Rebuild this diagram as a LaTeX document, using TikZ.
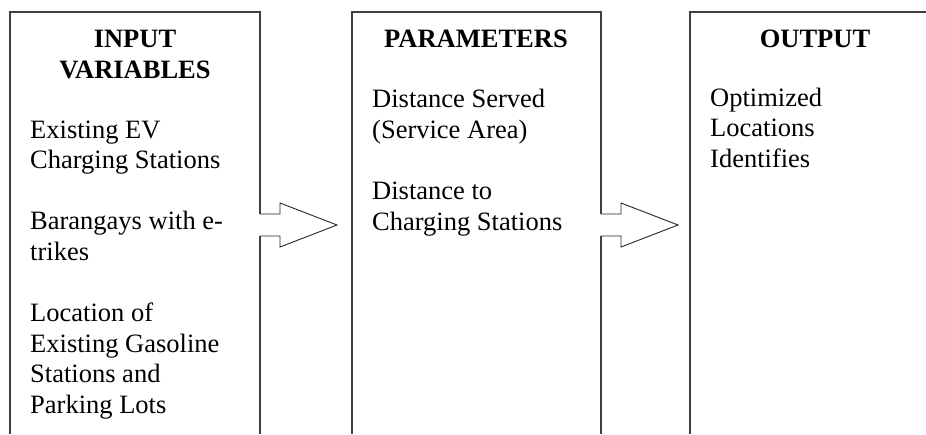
\documentclass[tikz,border=0pt]{standalone}
\usepackage{fontspec}
\setmainfont{Liberation Serif}

\begin{document}
\begin{tikzpicture}[x=1pt,y=-1pt,
  boxline/.style={draw=black!75,line width=1.2pt},
  arrowline/.style={draw=black!85,line width=0.9pt,line join=miter},
  heading/.style={font=\fontsize{26.5}{31}\selectfont\bfseries,align=center,anchor=base,inner sep=0pt},
  items/.style={font=\fontsize{26.5}{30.5}\selectfont,align=left,anchor=base west,inner sep=0pt}]
  \useasboundingbox (0,0) rectangle (926,434);
  % boxes, open at the bottom
  \draw[boxline] (10,434)--(10,12)--(260,12)--(260,214);
  \draw[boxline] (260,236)--(260,434);
  \draw[boxline] (352,434)--(352,12)--(601,12)--(601,214);
  \draw[boxline] (601,236)--(601,434);
  \draw[boxline] (690,434)--(690,12)--(926,12);
  % headings (base = baseline of the last line)
  \node[heading] (inputHead) at (135,78) {INPUT\\VARIABLES};
  \node[heading] (paramHead) at (476,47) {PARAMETERS};
  \node[heading] (outputHead) at (815,47) {OUTPUT};
  % contents
  \node[items] (inputItems) at (30,413) {Existing EV\\Charging Stations\\[30.5pt]
    Barangays with e-\\trikes\\[31pt]Location of\\Existing Gasoline\\Stations and\\Parking Lots};
  \node[items] (paramItems) at (372,230) {Distance Served\\(Service Area)\\[31pt]
    Distance to\\Charging Stations};
  \node[items] (outputItems) at (710,167) {Optimized\\Locations\\Identifies};
  % block arrows between the boxes
  \coordinate (inE) at (260,225);
  \coordinate (paramE) at (601,225);
  \draw[arrowline] (inE) ++(0,-11) -- ++(20,0) -- ++(0,-11) -- ++(57,22)
    -- ++(-57,22) -- ++(0,-11) -- ++(-20,0);
  \draw[arrowline] (paramE) ++(0,-11) -- ++(20,0) -- ++(0,-11) -- ++(57,22)
    -- ++(-57,22) -- ++(0,-11) -- ++(-20,0);
\end{tikzpicture}
\end{document}
